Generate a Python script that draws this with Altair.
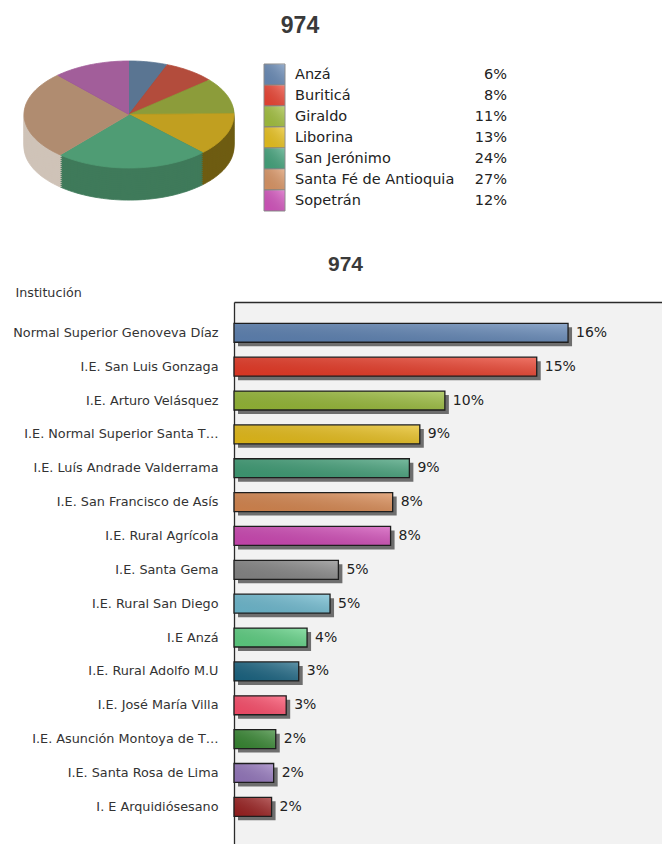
import altair as alt
import numpy as np
import pandas as pd

# ---------------- data ----------------
title_text = "974"
axis_title = "Institución"

pie_names = ["Anzá", "Buriticá", "Giraldo", "Liborina", "San Jerónimo",
             "Santa Fé de Antioquia", "Sopetrán"]
pie_pct = [6, 8, 11, 13, 24, 27, 12]
pie_top_colors = ["#5a7592", "#b34c3c", "#8c9c3a", "#c19f20", "#4f9c74",
                  "#b08c70", "#a25e9a"]
pie_side_colors = ["#3e5268", "#7c3428", "#606c28", "#6e5c12", "#3f7a5a",
                   "#cfc3b8", "#70406a"]
legend_colors = ["#6a8cb8", "#ee4433", "#a4c23e", "#ecc41c", "#44a57d",
                 "#dd9766", "#d655c0"]

bar_labels = ["Normal Superior Genoveva Díaz", "I.E. San Luis Gonzaga",
              "I.E. Arturo Velásquez", "I.E. Normal Superior Santa T…",
              "I.E. Luís Andrade Valderrama", "I.E. San Francisco de Asís",
              "I.E. Rural Agrícola", "I.E. Santa Gema", "I.E. Rural San Diego",
              "I.E Anzá", "I.E. Rural Adolfo M.U", "I.E. José María Villa",
              "I.E. Asunción Montoya de T…", "I.E. Santa Rosa de Lima",
              "I. E Arquidiósesano"]
bar_counts = [160, 145, 101, 89, 84, 76, 75, 50, 46, 35, 31, 25, 20, 19, 18]
bar_colors = ["#5f84b5", "#ea3a26", "#97ba36", "#e9bf18", "#3f9e76",
              "#d98850", "#d048b6", "#878787", "#6fbcd2", "#5ed283",
              "#1a6583", "#ff4e6c", "#378832", "#9678bf", "#9c2020"]

# ---------------- pie geometry (ellipse drawn through scales) ----------------
depth = 0.6
n_shift = 16
rows = []
total = sum(pie_pct)
cum = 0
for name, p in zip(pie_names, pie_pct):
    a0 = cum / total * 2 * np.pi
    cum += p
    a1 = cum / total * 2 * np.pi
    angles = np.linspace(a0, a1, 40)
    pts = [(0.0, 0.0)] + [(float(np.sin(a)), float(np.cos(a))) for a in angles]
    for k in range(n_shift + 1):
        s = depth * k / n_shift
        key = name if k == 0 else name + " (lado)"
        for i, (px, py) in enumerate(pts):
            rows.append(dict(name=name, key=key, shift=k, idx=i, px=px, py=py - s))
pie_df = pd.DataFrame(rows)

keys_all = pie_names + [n + " (lado)" for n in pie_names]
cols_all = pie_top_colors + pie_side_colors

pie_x = alt.X("px:Q", scale=alt.Scale(domain=[-1, 1], range=[-210, 0], nice=False, zero=False), axis=None)
pie_y = alt.Y("py:Q", scale=alt.Scale(domain=[-1, 1], range=[-134, -241], nice=False, zero=False), axis=None)
pie_col = alt.Color("key:N", scale=alt.Scale(domain=keys_all, range=cols_all), legend=None)
pie_strk = alt.Stroke("key:N", scale=alt.Scale(domain=keys_all, range=cols_all), legend=None)

pie_layers = []
for k in range(n_shift, -1, -1):
    pie_layers.append(
        alt.Chart(pie_df)
        .transform_filter(alt.datum.shift == k)
        .mark_line(filled=True, strokeWidth=0.8, strokeJoin="round")
        .encode(x=pie_x, y=pie_y, color=pie_col, stroke=pie_strk,
                order=alt.Order("idx:Q"))
    )
pie = alt.layer(*pie_layers)

# ---------------- pie legend ----------------
leg_df = pd.DataFrame({"name": pie_names, "pct": [f"{p}%" for p in pie_pct]})
leg_y = alt.Y("name:N", sort=pie_names,
              scale=alt.Scale(domain=pie_names, range=[-238, -91], paddingInner=0, paddingOuter=0),
              axis=None)
leg_fill = alt.Fill("name:N", scale=alt.Scale(domain=pie_names, range=legend_colors), legend=None)
swatch_grad = alt.LinearGradient(
    gradient="linear", x1=0, y1=1, x2=1, y2=0,
    stops=[alt.GradientStop(color="rgba(0,0,0,0.06)", offset=0),
           alt.GradientStop(color="rgba(255,255,255,0.30)", offset=1)])
leg_rect = alt.Chart(leg_df).mark_rect(stroke="#8a8a8a", strokeWidth=1).encode(
    y=leg_y, x=alt.value(30), x2=alt.value(51), fill=leg_fill)
leg_gl = alt.Chart(leg_df).mark_rect(fill=swatch_grad).encode(
    y=leg_y, x=alt.value(30.5), x2=alt.value(50.5))
leg_name = alt.Chart(leg_df).mark_text(align="left", baseline="middle", font="DejaVu Sans",
                                       fontSize=14.5, color="#222").encode(
    y=leg_y, x=alt.value(61), text="name:N")
leg_pct = alt.Chart(leg_df).mark_text(align="right", baseline="middle", font="DejaVu Sans",
                                      fontSize=14.5, color="#222").encode(
    y=leg_y, x=alt.value(273), text="pct:N")
legend = alt.layer(leg_rect, leg_gl, leg_name, leg_pct)

# ---------------- bars ----------------
bar_df = pd.DataFrame({"inst": bar_labels, "count": bar_counts})
by = alt.Y("inst:N", sort=bar_labels,
           scale=alt.Scale(domain=bar_labels, paddingInner=0.44, paddingOuter=0.7235, align=0.435),
           axis=alt.Axis(ticks=False, labelPadding=16, labelFont="DejaVu Sans", labelFontSize=12.8,
                         labelColor="#333", labelLimit=400, domainColor="#2b2b2b", domainWidth=1.3,
                         grid=False, title=axis_title, titleAngle=0, titleX=-219, titleY=-9.5,
                         titleAlign="left", titleBaseline="middle", titleFont="DejaVu Sans",
                         titleFontSize=12.7, titleFontWeight="normal", titleColor="#333"))
bx = alt.X("count:Q", scale=alt.Scale(domain=[0, 205], nice=False, zero=True),
           axis=alt.Axis(orient="top", ticks=False, labels=False, grid=False,
                         domainColor="#2b2b2b", domainWidth=1.3,
                         title=title_text, titleX=111, titleY=-32, titleAlign="center",
                         titleBaseline="alphabetic", titleFont="Liberation Sans",
                         titleFontSize=21, titleFontWeight="bold", titleColor="#3a3a3a"))
bar_col = alt.Color("inst:N", scale=alt.Scale(domain=bar_labels, range=bar_colors), legend=None)
bar_grad = alt.LinearGradient(
    gradient="linear", x1=0, y1=1, x2=1, y2=0,
    stops=[alt.GradientStop(color="rgba(0,0,0,0.08)", offset=0),
           alt.GradientStop(color="rgba(255,255,255,0.30)", offset=1)])

shadow = alt.Chart(bar_df).mark_bar(color="#6e6e6e", xOffset=4, yOffset=4, y2Offset=4).encode(
    x=bx, y=by)
base_bar = alt.Chart(bar_df).mark_bar().encode(x=bx, y=by, color=bar_col)
gloss = alt.Chart(bar_df).mark_bar(fill=bar_grad, stroke="#1e1e1e", strokeWidth=1.3).encode(
    x=bx, y=by)
labels = (alt.Chart(bar_df)
          .transform_joinaggregate(total="sum(count)")
          .transform_calculate(pct="format(datum.count / datum.total, '.0%')")
          .mark_text(align="left", baseline="middle", dx=8, font="DejaVu Sans", fontSize=14,
                     color="#222")
          .encode(x=bx, y=by, text="pct:N"))
bars = alt.layer(shadow, base_bar, gloss, labels)

# ---------------- top title ----------------
title_df = pd.DataFrame({"t": [title_text]})
top_title = alt.Chart(title_df).mark_text(font="Liberation Sans", fontSize=23, fontWeight="bold",
                                          color="#3a3a3a", align="center",
                                          baseline="alphabetic").encode(
    text="t:N", x=alt.value(66), y=alt.value(-269))

chart = (
    alt.layer(bars, pie, legend, top_title)
    .resolve_scale(x="independent", y="independent", color="independent",
                   fill="independent", stroke="independent")
    .properties(width=428, height=542,
                padding={"left": 234, "top": 302, "right": 0, "bottom": 0},
                autosize=alt.AutoSizeParams(type="none"),
                background="white")
    .configure_view(strokeWidth=0, fill="#f2f2f2")
)

chart.save("out.html", embed_options={"renderer": "svg", "actions": False})
